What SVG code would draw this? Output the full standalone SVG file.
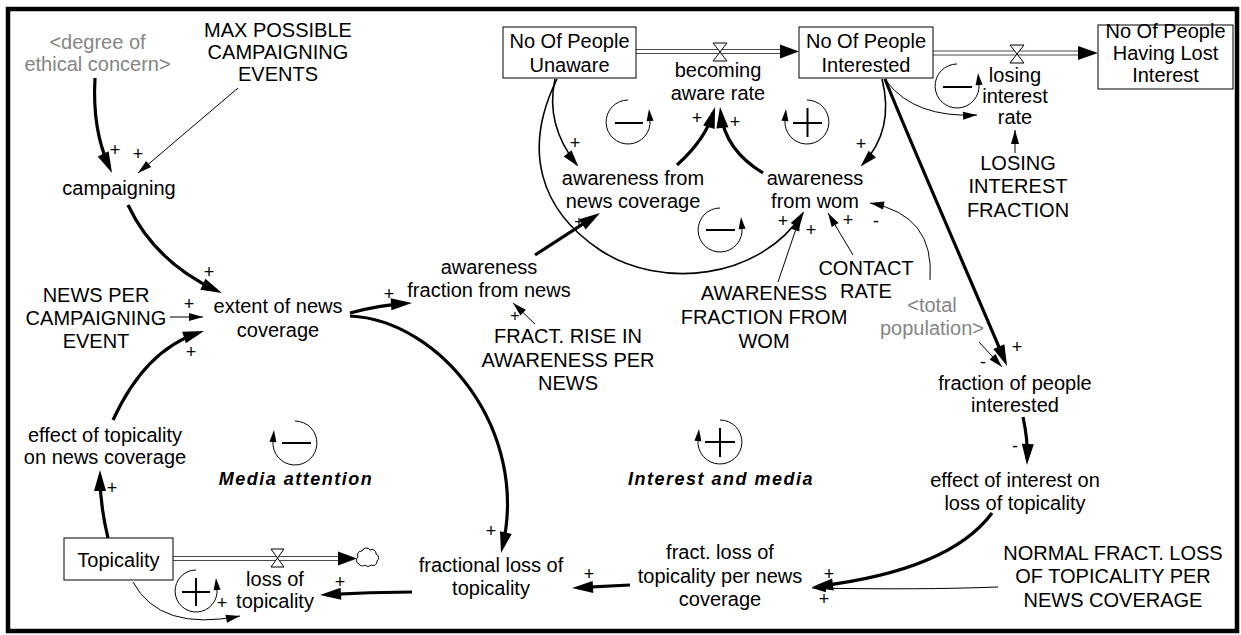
<svg xmlns="http://www.w3.org/2000/svg" width="1241" height="635" viewBox="0 0 1241 635">
  <defs>
    <style>
      text { font-family: "Liberation Sans", Arial, sans-serif; font-size: 20px; fill: #000; text-anchor: middle; }
      .ghost { fill: #858585; }
      .sign { font-size: 18px; fill: #000; }
      .sign.small { font-size: 16px; }
      .title { font-weight: bold; font-style: italic; font-size: 18px; letter-spacing: 1.5px; }
      .box { fill: #fff; stroke: #000; stroke-width: 1; }
      .thick { fill: none; stroke: #000; stroke-width: 3.2; marker-end: url(#hThick); }
      .mid { fill: none; stroke: #000; stroke-width: 1.6; marker-end: url(#hMid); }
      .thin { fill: none; stroke: #000; stroke-width: 1; marker-end: url(#hThin); }
      .loop { fill: none; stroke: #000; stroke-width: 1; marker-end: url(#hLoop); }
      .glyph { stroke: #000; stroke-width: 2; }
      .pipeOuter { fill: none; stroke: #4a4a4a; stroke-width: 5; }
      .pipeInner { fill: none; stroke: #fff; stroke-width: 3; }
      .valve { fill: #fff; stroke: #000; stroke-width: 1; }
      .cloud { fill: #fff; stroke: #000; stroke-width: 1; }
    </style>
    <marker id="hThick" markerUnits="userSpaceOnUse" markerWidth="22" markerHeight="12" refX="15" refY="6" orient="auto" overflow="visible">
      <path d="M0,0 L21,6 L0,12 z" fill="#000"/>
    </marker>
    <marker id="hMid" markerUnits="userSpaceOnUse" markerWidth="17" markerHeight="10" refX="15" refY="5" orient="auto" overflow="visible">
      <path d="M0,0 L17,5 L0,10 z" fill="#000"/>
    </marker>
    <marker id="hThin" markerUnits="userSpaceOnUse" markerWidth="14" markerHeight="8" refX="14" refY="4" orient="auto" overflow="visible">
      <path d="M0,0 L14,4 L0,8 z" fill="#000"/>
    </marker>
    <marker id="hLoop" markerUnits="userSpaceOnUse" markerWidth="12" markerHeight="7" refX="1" refY="3.5" orient="auto" overflow="visible">
      <path d="M0,0 L12,3.5 L0,7 z" fill="#000"/>
    </marker>
  </defs>

  <rect x="0" y="0" width="1241" height="635" fill="#fff"/>
  <!-- outer frame -->
  <rect x="8" y="9" width="1229" height="622" fill="none" stroke="#000" stroke-width="4.5"/>

  <!-- material flows (pipes, valves, cloud) -->
  <g id="flows">
    <path class="pipeOuter" d="M636,51.5 H780"/>
    <path class="pipeInner" d="M636,51.5 H781"/>
    <path d="M780,44.5 L799,51.5 L780,58.5 z" fill="#000"/>
    <path class="valve" d="M713,43 H727 L713,61 H727 z"/>

    <path class="pipeOuter" d="M933,53 H1078"/>
    <path class="pipeInner" d="M933,53 H1079"/>
    <path d="M1078,46 L1098,53 L1078,60 z" fill="#000"/>
    <path class="valve" d="M1010,45 H1024 L1010,63 H1024 z"/>

    <path class="pipeOuter" d="M173,558.5 H338"/>
    <path class="pipeInner" d="M173,558.5 H339"/>
    <path d="M338,551.5 L357,558.5 L338,565.5 z" fill="#000"/>
    <path class="valve" d="M271,549 H284 L271,567 H284 z"/>
    <path class="cloud" d="M359,564 a4,4 0 0 1 -1,-7 a4,4 0 0 1 4,-6 a4.5,4.5 0 0 1 8,-1 a4,4 0 0 1 6,4 a4,4 0 0 1 1,7 a4,4 0 0 1 -6,4 a4,4 0 0 1 -6,0 a4,4 0 0 1 -6,-1 z"/>
  </g>

  <!-- causal connectors -->
  <g id="connectors">
    <path class="thick" d="M95,78 Q92,130 109.5,167.5"/>
    <path class="thin" d="M238,88 L138,173"/>
    <path class="thick" d="M128,205 Q155,262 216.5,290.5"/>
    <path class="thin" d="M170,317 L203,317"/>
    <path class="thick" d="M113,420 Q145,350 198.3,332.9"/>
    <path class="thick" d="M350,313 Q380,305 406,303.4"/>
    <path class="thick" d="M350,316 C440,320 530,430 502.4,547.2"/>
    <path class="thick" d="M535,255 L595,216.2"/>
    <path class="thin" d="M535,324 L513,303"/>
    <path class="mid" d="M555,79 Q545,125 577,165"/>
    <path class="mid" d="M557,79 C522,150 540,210 600,250 C660,290 760,280 803,213"/>
    <path class="thick" d="M677,165 Q705,140 713.3,112.8"/>
    <path class="thick" d="M763,173 Q725,150 720.7,113"/>
    <path class="mid" d="M882,79 Q895,130 862,165"/>
    <path class="thin" d="M778,282 L800,217"/>
    <path class="thin" d="M853,255 L828,213"/>
    <path class="thin" d="M930,280 Q935,215 870,203"/>
    <path class="thin" d="M887,82 Q915,118 977,115"/>
    <path class="thin" d="M1015,153 L1015,130"/>
    <path class="thick" d="M885,79 C905,130 975,290 1004.7,360.5"/>
    <path class="thin" d="M979,342 L1002,367"/>
    <path class="thick" d="M1023,417 Q1028,440 1027.2,459"/>
    <path class="thick" d="M992,513 Q950,570 818,586.3"/>
    <path class="thin" d="M998,587 Q920,590 812,588"/>
    <path class="thick" d="M630,585 L578,587.7"/>
    <path class="thick" d="M412,592 Q370,592 326,594.6"/>
    <path class="thick" d="M108,538 Q100,505 100,476"/>
    <path class="thin" d="M133,582 Q160,632 240,616"/>
  </g>

  <!-- link polarities -->
  <g id="polarities">
    <text class="sign" x="115" y="156">+</text>
    <text class="sign" x="138" y="160">+</text>
    <text class="sign" x="209" y="278">+</text>
    <text class="sign" x="189" y="310">+</text>
    <text class="sign" x="191" y="358">+</text>
    <text class="sign" x="389" y="300">+</text>
    <text class="sign small" x="579" y="227">+</text>
    <text class="sign small" x="515" y="321">+</text>
    <text class="sign" x="575" y="149">+</text>
    <text class="sign" x="697" y="124">+</text>
    <text class="sign" x="735" y="128">+</text>
    <text class="sign" x="861" y="150">+</text>
    <text class="sign" x="783" y="227">+</text>
    <text class="sign" x="811" y="236">+</text>
    <text class="sign" x="848" y="226">+</text>
    <text class="sign" x="876" y="227">-</text>
    <text class="sign" x="1017" y="353">+</text>
    <text class="sign" x="983" y="368">-</text>
    <text class="sign" x="1015" y="452">-</text>
    <text class="sign" x="829" y="580">+</text>
    <text class="sign" x="824" y="605">+</text>
    <text class="sign" x="589" y="580">+</text>
    <text class="sign" x="491" y="537">+</text>
    <text class="sign" x="340" y="588">+</text>
    <text class="sign" x="222" y="609">+</text>
    <text class="sign" x="112" y="494">+</text>
  </g>

  <!-- loop identifiers -->
  <g id="loop-b1">
    <path class="loop" d="M628,100 A22,22 0 1 0 650,120"/>
    <line class="glyph" x1="615" y1="123" x2="643" y2="123"/>
  </g>
  <g id="loop-r1">
    <path class="loop" d="M807,100 A22,22 0 1 1 785,120"/>
    <line class="glyph" x1="793" y1="123" x2="822" y2="123"/>
    <line class="glyph" x1="807.5" y1="108" x2="807.5" y2="137"/>
  </g>
  <g id="loop-b2">
    <path class="loop" d="M957,64 A22,22 0 1 0 979,84"/>
    <line class="glyph" x1="943" y1="87" x2="972" y2="87"/>
  </g>
  <g id="loop-b3">
    <path class="loop" d="M720,208 A22,22 0 1 0 742,228"/>
    <line class="glyph" x1="706" y1="230" x2="735" y2="230"/>
  </g>
  <g id="loop-media-attention">
    <path class="loop" d="M295,421 A22,22 0 1 1 273,441"/>
    <line class="glyph" x1="282" y1="443" x2="311" y2="443"/>
    <text class="title" x="296" y="485">Media attention</text>
  </g>
  <g id="loop-interest-and-media">
    <path class="loop" d="M720,420 A22,22 0 1 1 698,440"/>
    <line class="glyph" x1="705" y1="442" x2="735" y2="442"/>
    <line class="glyph" x1="720" y1="428" x2="720" y2="457"/>
    <text class="title" x="721" y="485">Interest and media</text>
  </g>
  <g id="loop-r2">
    <path class="loop" d="M196,570 A21,21 0 1 0 217,589"/>
    <line class="glyph" x1="182" y1="592" x2="210" y2="592"/>
    <line class="glyph" x1="196" y1="578" x2="196" y2="606"/>
  </g>

  <!-- stocks -->
  <g id="stock-unaware">
    <rect class="box" x="503" y="27" width="133" height="51"/>
    <text x="569.5" y="48">No Of People</text>
    <text x="569.5" y="72">Unaware</text>
  </g>
  <g id="stock-interested">
    <rect class="box" x="799" y="27" width="134" height="51"/>
    <text x="866" y="48">No Of People</text>
    <text x="866" y="72">Interested</text>
  </g>
  <g id="stock-lost-interest">
    <rect class="box" x="1098" y="25" width="135" height="64"/>
    <text x="1165.5" y="38">No Of People</text>
    <text x="1165.5" y="60">Having Lost</text>
    <text x="1165.5" y="82">Interest</text>
  </g>
  <g id="stock-topicality">
    <rect class="box" x="64" y="538" width="109" height="42"/>
    <text x="118.5" y="567">Topicality</text>
  </g>

  <!-- rates -->
  <g id="rate-becoming-aware">
    <text x="718" y="77">becoming</text>
    <text x="718" y="100">aware rate</text>
  </g>
  <g id="rate-losing-interest">
    <text x="1015" y="82">losing</text>
    <text x="1015" y="103">interest</text>
    <text x="1015" y="124">rate</text>
  </g>
  <g id="rate-loss-of-topicality">
    <text x="275" y="586">loss of</text>
    <text x="275" y="608">topicality</text>
  </g>

  <!-- auxiliaries and constants -->
  <g id="shadow-ethical-concern">
    <text class="ghost" x="97.5" y="49">&lt;degree of</text>
    <text class="ghost" x="97.5" y="71">ethical concern&gt;</text>
  </g>
  <g id="max-campaigning-events">
    <text x="278" y="37">MAX POSSIBLE</text>
    <text x="278" y="59">CAMPAIGNING</text>
    <text x="278" y="81">EVENTS</text>
  </g>
  <g id="campaigning">
    <text x="119" y="195">campaigning</text>
  </g>
  <g id="news-per-event">
    <text x="96" y="302">NEWS PER</text>
    <text x="96" y="325">CAMPAIGNING</text>
    <text x="96" y="348">EVENT</text>
  </g>
  <g id="extent-of-news">
    <text x="278" y="313">extent of news</text>
    <text x="278" y="337">coverage</text>
  </g>
  <g id="awareness-fraction-news">
    <text x="489" y="274">awareness</text>
    <text x="489" y="297">fraction from news</text>
  </g>
  <g id="fract-rise">
    <text x="568" y="343">FRACT. RISE IN</text>
    <text x="568" y="367">AWARENESS PER</text>
    <text x="568" y="390">NEWS</text>
  </g>
  <g id="awareness-news-coverage">
    <text x="633" y="185">awareness from</text>
    <text x="633" y="208">news coverage</text>
  </g>
  <g id="awareness-wom">
    <text x="815" y="185">awareness</text>
    <text x="815" y="208">from wom</text>
  </g>
  <g id="contact-rate">
    <text x="866" y="275">CONTACT</text>
    <text x="866" y="298">RATE</text>
  </g>
  <g id="awareness-fraction-wom">
    <text x="764" y="300">AWARENESS</text>
    <text x="764" y="324">FRACTION FROM</text>
    <text x="764" y="348">WOM</text>
  </g>
  <g id="losing-interest-fraction">
    <text x="1018" y="170">LOSING</text>
    <text x="1018" y="193">INTEREST</text>
    <text x="1018" y="217">FRACTION</text>
  </g>
  <g id="shadow-total-population">
    <text class="ghost" x="932" y="312">&lt;total</text>
    <text class="ghost" x="932" y="335">population&gt;</text>
  </g>
  <g id="fraction-interested">
    <text x="1015" y="390">fraction of people</text>
    <text x="1015" y="412">interested</text>
  </g>
  <g id="effect-interest">
    <text x="1015" y="487">effect of interest on</text>
    <text x="1015" y="510">loss of topicality</text>
  </g>
  <g id="normal-fract-loss">
    <text x="1113" y="560">NORMAL FRACT. LOSS</text>
    <text x="1113" y="583">OF TOPICALITY PER</text>
    <text x="1113" y="607">NEWS COVERAGE</text>
  </g>
  <g id="fract-loss-per-news">
    <text x="720" y="559">fract. loss of</text>
    <text x="720" y="583">topicality per news</text>
    <text x="720" y="606">coverage</text>
  </g>
  <g id="fractional-loss">
    <text x="491" y="572">fractional loss of</text>
    <text x="491" y="595">topicality</text>
  </g>
  <g id="effect-topicality">
    <text x="105" y="442">effect of topicality</text>
    <text x="105" y="464">on news coverage</text>
  </g>
</svg>
